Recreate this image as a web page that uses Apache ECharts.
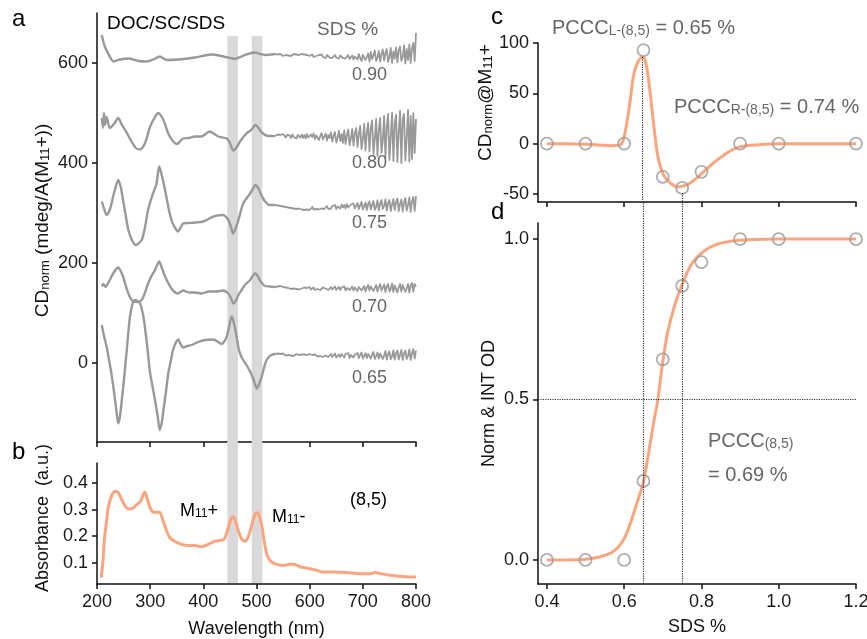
<!DOCTYPE html>
<html>
<head>
<meta charset="utf-8">
<script src="https://cdn.jsdelivr.net/npm/echarts@6/dist/echarts.min.js"></script>
<style>html,body{margin:0;padding:0;background:#fff}#chart{width:867px;height:639px}</style>
</head>
<body>
<div id="chart"></div>
<script>
// ---------------- DATA ----------------
// Panel a: CD spectra (wavelength nm, CD value incl. vertical offset)
const cd090Head = [[209,656],[214,635],[221,619],[231,603],[243,607],[259,609],[278,604],[293,603],[306,607],[318,613],[331,606],[353,607],[384,611],[416,617],[434,614],[450,610],[459,608],[470,612],[478,616],[497,621],[507,618],[516,616],[535,618]];
const cd080Head = [[209,490],[211,470],[213,500],[215,476],[218,492],[224,470],[232,478],[240,490],[246,478],[253,466],[265,443],[273,430],[281,427],[290,439],[300,473],[308,490],[315,500],[325,486],[334,459],[342,445],[350,438],[362,449],[373,450],[384,453],[396,453],[412,463],[428,453],[444,449],[450,440],[456,425],[463,432],[469,443],[481,459],[490,466],[498,476],[504,470],[510,461],[522,454],[535,454]];
const cd075Head = [[209,323],[213,310],[218,296],[224,306],[232,340],[240,366],[245,350],[249,326],[254,295],[259,266],[266,245],[273,236],[284,246],[290,270],[296,306],[304,335],[312,359],[317,393],[322,375],[328,346],[334,313],[340,286],[346,272],[352,263],[357,270],[362,279],[373,280],[384,281],[400,283],[419,293],[437,296],[447,286],[452,272],[456,259],[461,270],[466,286],[475,319],[488,339],[493,348],[498,356],[502,352],[506,343],[511,332],[516,323],[525,316],[535,316]];
const cd070Head = [[209,153],[212,158],[216,152],[220,158],[224,166],[232,182],[240,191],[245,183],[249,173],[254,155],[259,139],[264,128],[268,123],[276,122],[284,126],[290,140],[296,159],[303,175],[309,186],[317,203],[322,190],[328,173],[334,160],[340,149],[346,142],[352,139],[362,145],[373,141],[384,141],[397,139],[410,143],[424,143],[437,145],[447,139],[452,130],[456,119],[461,124],[466,136],[472,146],[478,156],[488,166],[497,179],[501,176],[506,166],[511,159],[516,154],[525,153],[535,152]];
const cd065Head = [[209,76],[213,55],[218,33],[222,10],[226,-14],[230,-42],[234,-74],[237,-100],[240,-121],[243,-108],[246,-81],[251,-30],[256,26],[259,62],[262,93],[266,115],[271,126],[276,124],[281,119],[286,100],[290,73],[295,28],[300,-21],[305,-50],[309,-74],[314,-105],[318,-134],[322,-118],[325,-94],[330,-55],[334,-21],[339,5],[343,26],[348,40],[353,47],[357,38],[362,31],[370,34],[378,36],[390,42],[403,46],[419,47],[428,42],[434,38],[440,44],[444,53],[449,75],[453,93],[456,86],[459,73],[463,50],[467,26],[471,14],[475,6],[481,-4],[488,-17],[494,-32],[498,-45],[501,-51],[505,-42],[510,-27],[514,-10],[519,6],[524,13],[528,16],[535,18]];
// noisy tails, read on a 2.5 nm grid
const tailWl = [540,542.5,545,547.5,550,552.5,555,557.5,560,562.5,565,567.5,570,572.5,575,577.5,580,582.5,585,587.5,590,592.5,595,597.5,600,602.5,605,607.5,610,612.5,615,617.5,620,622.5,625,627.5,630,632.5,635,637.5,640,642.5,645,647.5,650,652.5,655,657.5,660,662.5,665,667.5,670,672.5,675,677.5,680,682.5,685,687.5,690,692.5,695,697.5,700,702.5,705,707.5,710,712.5,715,717.5,720,722.5,725,727.5,730,732.5,735,737.5,740,742.5,745,747.5,750,752.5,755,757.5,760,762.5,765,767.5,770,772.5,775,777.5,780,782.5,785,787.5,790,792.5,795,797.5,800];
const cd090Tail = [617,615,618,616,614,617,616,618,615,617, 614,616,618,615,617,614,616,615,618,614, 617,613,616,618,614,615,617,612,616,614, 611,616,613,617,612,615,610,616,613,611, 615,610,614,616,611,613,609,615,612,610, 614,609,613,616,608,612,615,607,613,617, 607,618,610,604,616,620,606,612,619,603, 622,608,615,625,604,611,624,603,618,627, 605,620,628,602,612,630,600,623,609,631, 601,626,633,604,612,635,599,628,606,637, 600,630,640,604,660];
const cd080Tail = [457,453,456,452,458,454,451,456,453,455, 450,457,452,455,449,456,453,451,457,450, 456,449,458,451,447,457,452,459,448,455, 458,446,454,460,447,451,459,445,456,450, 461,443,455,462,441,450,464,444,458,440, 465,438,456,467,436,449,468,435,460,470, 432,458,474,428,447,478,425,462,480,423, 470,485,418,448,488,414,466,490,420,445, 494,410,472,498,406,452,500,404,480,496, 402,462,504,400,488,498,405,450,506,403, 494,408,500,420,488];
const cd075Tail = [315,312,314,311,313,310,312,309,311,308, 310,307,309,306,308,305,309,306,307,309, 306,310,307,311,306,309,312,307,310,308, 312,307,311,309,313,308,311,314,308,312, 309,314,310,316,308,313,315,309,317,311, 316,309,318,311,308,317,313,319,309,315, 320,308,316,322,307,313,321,306,318,323, 307,317,324,306,312,325,305,319,326,308, 314,327,305,320,326,304,317,328,306,322, 329,304,318,327,303,321,330,305,316,331, 302,324,332,304,334];
const cd070Tail = [153,151,154,150,152,149,151,153,150,152, 148,151,149,152,148,150,147,151,149,148, 151,147,150,148,152,147,149,151,146,150, 148,152,146,150,151,147,149,152,146,150, 152,147,150,153,146,149,152,146,151,148, 153,145,150,154,146,148,153,145,151,155, 144,152,155,145,149,154,143,151,156,145, 153,157,144,150,156,143,152,158,145,149, 157,142,153,158,143,148,159,142,155,157, 141,152,158,143,156,160,142,149,158,141, 155,160,143,158,152];
const cd065Tail = [19,17,18,16,19,17,15,18,16,17, 15,17,14,16,18,15,16,14,17,15, 17,13,16,15,18,14,16,13,17,15, 13,17,14,18,12,16,15,18,12,16, 18,12,16,19,11,15,17,12,18,14, 11,18,15,20,10,16,19,11,17,13, 20,10,16,21,9,14,20,10,18,21, 9,17,22,8,14,21,9,19,23,8, 15,24,7,18,23,8,13,25,7,20, 25,7,16,26,6,19,25,8,14,27, 6,20,28,9,25];
const sdsLabels = ['0.90','0.80','0.75','0.70','0.65'];
const cdTicks = [0,200,400,600];

// Panel b: absorbance
const absWl = [208,211,214,218,221,226,231,236,241,248,254,260,268,275,282,287,290,294,301,307,315,319,324,331,337,346,359,371,384,397,409,422,431,439,445,451,456,460,466,472,479,486,493,497,501,505,510,515,520,528,538,550,563,569,582,594,610,626,645,670,695,714,723,733,751,776,800];
const absVal = [0.044,0.10,0.19,0.256,0.306,0.344,0.365,0.369,0.36,0.331,0.31,0.302,0.306,0.319,0.331,0.356,0.365,0.344,0.302,0.29,0.29,0.288,0.26,0.219,0.194,0.181,0.169,0.165,0.165,0.16,0.169,0.181,0.184,0.188,0.219,0.26,0.273,0.26,0.219,0.19,0.181,0.206,0.256,0.281,0.288,0.278,0.238,0.175,0.128,0.103,0.094,0.09,0.094,0.094,0.085,0.08,0.073,0.065,0.065,0.063,0.059,0.059,0.063,0.059,0.053,0.048,0.046];
const absTicks = [0.1,0.2,0.3,0.4];
const bands = [[445,465],[491,511]];

// Panel c & d: SDS dependence
const sdsX = [0.4,0.5,0.6,0.65,0.7,0.75,0.8,0.9,1.0,1.2];
const cdM11 = [0,0,0,93,-33,-44,-28,0,0,0];
const cFitX = [0.40,0.45,0.50,0.54,0.565,0.59,0.598,0.607,0.616,0.624,0.633,0.642,0.648,0.655,0.663,0.672,0.681,0.689,0.702,0.719,0.738,0.754,0.771,0.797,0.832,0.871,0.901,0.95,1.0,1.1,1.2];
const cFitY = [0,0,-0.5,-1.5,-2,-1,4,21,44,67,79,85,86,82,64,34,4,-16,-31,-39,-43,-42,-39,-31,-19,-8,-3,-1,0,0,0];
const normOD = [0,0,0,0.246,0.625,0.854,0.928,1,1,1];
const dFitX = [0.40,0.45,0.50,0.538,0.572,0.598,0.616,0.633,0.649,0.663,0.676,0.687,0.698,0.711,0.724,0.738,0.754,0.776,0.806,0.841,0.88,0.92,1.0,1.1,1.2];
const dFitY = [0,0,0.002,0.01,0.026,0.062,0.114,0.177,0.239,0.332,0.426,0.498,0.602,0.70,0.765,0.82,0.87,0.925,0.962,0.984,0.994,0.998,1,1,1];
const sdsTicks = [0.4,0.6,0.8,1.0,1.2];
const cTicks = [-50,0,50,100];
const dTicks = [0,0.5,1.0];
const guideX = [0.648,0.751];     // PCCC_L / PCCC_R positions
const guideTopC = [86,-49];       // where the guides start in panel c
const halfLevel = 0.5;

// ---------------- CHART ----------------
const FONT = '"Liberation Sans", Arial, sans-serif';
const GREY = '#999999';
const ORANGE = '#fba57e';
const TXT = '#666666';

const pairs = (xs, ys) => xs.map((x, i) => [x, ys[i]]);

const axLine = {show: true, onZero: false, lineStyle: {color: '#111', width: 1.5}};
const axTick = (vals) => Object.assign({show: true, length: 5, inside: false, lineStyle: {color: '#111', width: 1.5}}, vals ? {customValues: vals} : {});
const axLabel = (extra) => Object.assign({color: '#1a1a1a', fontSize: 18, fontFamily: FONT, margin: 9}, extra || {});
const noSplit = {show: false};

const gridBase = {containLabel: false, outerBoundsMode: 'none'};
const grids = [
  Object.assign({left: 97, top: 13, width: 319, height: 429}, gridBase),
  Object.assign({left: 97, top: 463, width: 319, height: 121}, gridBase),
  Object.assign({left: 538, top: 43, width: 318, height: 159}, gridBase),
  Object.assign({left: 538, top: 223, width: 318, height: 361}, gridBase),
  Object.assign({left: 97, top: 36, width: 319, height: 547}, gridBase),
  Object.assign({left: 538, top: 202, width: 318, height: 382}, gridBase)
];

const nameRich = (big, small) => ({
  m: {fontSize: big, fontFamily: FONT, color: '#111'},
  s: {fontSize: small, fontFamily: FONT, color: '#111', verticalAlign: 'bottom'}
});

const xAxes = [
  {gridIndex: 0, type: 'value', min: 200, max: 800, interval: 100, axisLine: axLine, axisTick: axTick(), axisLabel: {show: false}, splitLine: noSplit},
  {gridIndex: 1, type: 'value', min: 200, max: 800, interval: 100, axisLine: axLine, axisTick: axTick(), axisLabel: axLabel(), splitLine: noSplit,
    name: 'Wavelength (nm)', nameLocation: 'middle', nameGap: 36, nameTextStyle: {fontSize: 18, fontFamily: FONT, color: '#111'}},
  {gridIndex: 2, type: 'value', min: 0.377, max: 1.2, axisLine: axLine, axisTick: axTick(sdsTicks), axisLabel: {show: false}, splitLine: noSplit},
  {gridIndex: 3, type: 'value', min: 0.377, max: 1.2, axisLine: axLine, axisTick: axTick(sdsTicks),
    axisLabel: axLabel({customValues: sdsTicks, formatter: v => v.toFixed(1)}), splitLine: noSplit,
    name: 'SDS %', nameLocation: 'middle', nameGap: 34, nameTextStyle: {fontSize: 18, fontFamily: FONT, color: '#111'}},
  {gridIndex: 4, type: 'value', min: 200, max: 800, show: false},
  {gridIndex: 5, type: 'value', min: 0.377, max: 1.2, show: false}
];

const yAxes = [
  {gridIndex: 0, type: 'value', min: -158, max: 700, axisLine: axLine, axisTick: axTick(cdTicks),
    axisLabel: axLabel({customValues: cdTicks}), splitLine: noSplit,
    name: '{m|CD}{s|norm}{m| (mdeg/A(M}{s|11}{m|+))}', nameLocation: 'middle', nameGap: 45, nameRotate: 90,
    nameTextStyle: {fontSize: 19, fontFamily: FONT, color: '#111', padding: [0, 0, 0, 14], rich: nameRich(19, 13)}},
  {gridIndex: 1, type: 'value', min: 0.02, max: 0.475, axisLine: axLine, axisTick: axTick(absTicks),
    axisLabel: axLabel({customValues: absTicks, formatter: v => v.toFixed(1)}), splitLine: noSplit,
    name: 'Absorbance  (a.u.)', nameLocation: 'middle', nameGap: 45, nameRotate: 90,
    nameTextStyle: {fontSize: 18, fontFamily: FONT, color: '#111', padding: [0, 0, 0, 11]}},
  {gridIndex: 2, type: 'value', min: -58, max: 100, axisLine: axLine, axisTick: axTick(cTicks),
    axisLabel: axLabel({customValues: cTicks}), splitLine: noSplit,
    name: '{m|CD}{s|norm}{m|@M}{s|11}{m|+}', nameLocation: 'middle', nameGap: 40, nameRotate: 90,
    nameTextStyle: {fontSize: 19, fontFamily: FONT, color: '#111', padding: [0, 0, 0, 40], rich: nameRich(19, 13)}},
  {gridIndex: 3, type: 'value', min: -0.075, max: 1.05, axisLine: axLine, axisTick: axTick(dTicks),
    axisLabel: axLabel({customValues: dTicks, formatter: v => v.toFixed(1)}), splitLine: noSplit,
    name: 'Norm & INT OD', nameLocation: 'middle', nameGap: 40, nameRotate: 90,
    nameTextStyle: {fontSize: 18, fontFamily: FONT, color: '#111'}},
  {gridIndex: 4, type: 'value', min: 0, max: 1, show: false},
  {gridIndex: 5, type: 'value', min: 0, max: 1, show: false}
];

// each spectrum: smooth body + raw (unsmoothed) noisy tail joined at the last body point
const spectra = [[cd090Head, cd090Tail], [cd080Head, cd080Tail], [cd075Head, cd075Tail], [cd070Head, cd070Tail], [cd065Head, cd065Tail]];
const cdSeries = [];
spectra.forEach((p, i) => {
  const nm = 'SDS ' + sdsLabels[i] + ' %';
  cdSeries.push({
    name: nm, type: 'line', xAxisIndex: 0, yAxisIndex: 0, data: p[0], showSymbol: false, smooth: 0.25, silent: true,
    lineStyle: {color: GREY, width: 2.4}, z: 3
  });
  cdSeries.push({
    name: nm, type: 'line', xAxisIndex: 0, yAxisIndex: 0, data: [p[0][p[0].length - 1]].concat(pairs(tailWl, p[1])),
    showSymbol: false, smooth: false, silent: true, lineStyle: {color: GREY, width: 1.8, join: 'round'}, z: 3
  });
});

const dotted = {type: 'dotted', color: '#333', width: 1.2};

const series = [
  {type: 'line', xAxisIndex: 4, yAxisIndex: 4, data: [[bands[0][0], 0]], showSymbol: false, lineStyle: {opacity: 0}, silent: true, z: -1,
    markArea: {silent: true, itemStyle: {color: '#d9d9dc'}, data: bands.map(b => [{xAxis: b[0]}, {xAxis: b[1]}])}},
  ...cdSeries,
  {name: 'Absorbance', type: 'line', xAxisIndex: 1, yAxisIndex: 1, data: pairs(absWl, absVal), showSymbol: false, smooth: 0.3,
    lineStyle: {color: ORANGE, width: 3}, silent: true, z: 3},
  {type: 'line', xAxisIndex: 5, yAxisIndex: 5, data: [[guideX[0], 0]], showSymbol: false, lineStyle: {opacity: 0}, silent: true, z: 1,
    markLine: {silent: true, symbol: 'none', label: {show: false}, lineStyle: dotted, data: guideX.map(x => ({xAxis: x}))}},
  {name: 'CD fit', type: 'line', xAxisIndex: 2, yAxisIndex: 2, data: pairs(cFitX, cFitY), showSymbol: false, smooth: 0.35,
    lineStyle: {color: ORANGE, width: 3}, silent: true, z: 3,
    markLine: {silent: true, symbol: 'none', label: {show: false}, lineStyle: dotted,
      data: guideX.map((x, i) => [{coord: [x, guideTopC[i]]}, {coord: [x, -58]}])}},
  {name: 'CD@M11+', type: 'scatter', xAxisIndex: 2, yAxisIndex: 2, data: pairs(sdsX, cdM11), symbol: 'circle', symbolSize: 12,
    itemStyle: {color: 'rgba(255,255,255,0)', borderColor: GREY, borderWidth: 1.8}, silent: true, z: 4},
  {name: 'OD fit', type: 'line', xAxisIndex: 3, yAxisIndex: 3, data: pairs(dFitX, dFitY), showSymbol: false, smooth: 0.35,
    lineStyle: {color: ORANGE, width: 3}, silent: true, z: 3,
    markLine: {silent: true, symbol: 'none', label: {show: false}, lineStyle: dotted, data: [{yAxis: halfLevel}]}},
  {name: 'Norm OD', type: 'scatter', xAxisIndex: 3, yAxisIndex: 3, data: pairs(sdsX, normOD), symbol: 'circle', symbolSize: 12,
    itemStyle: {color: 'rgba(255,255,255,0)', borderColor: GREY, borderWidth: 1.8}, silent: true, z: 4}
];

const txt = (x, y, text, size, color, rich) => ({
  type: 'text', x: x, y: y, silent: true, z: 10,
  style: Object.assign({text: text, fill: color, font: size + 'px ' + FONT, textAlign: 'left', textVerticalAlign: 'middle'}, rich ? {rich: rich} : {})
});
const annRich = (big, small, color) => ({
  m: {fontSize: big, fontFamily: FONT, fill: color, color: color},
  s: {fontSize: small, fontFamily: FONT, fill: color, color: color, verticalAlign: 'bottom'}
});

const graphics = [
  txt(12, 19, 'a', 24, '#000'),
  txt(12, 452, 'b', 24, '#000'),
  txt(491, 17, 'c', 24, '#000'),
  txt(491, 212, 'd', 24, '#000'),
  txt(107, 24, 'DOC/SC/SDS', 19, '#000'),
  txt(317, 30, 'SDS %', 19, TXT),
  txt(352, 75, sdsLabels[0], 18, TXT),
  txt(352, 163, sdsLabels[1], 18, TXT),
  txt(352, 223, sdsLabels[2], 18, TXT),
  txt(352, 307, sdsLabels[3], 18, TXT),
  txt(352, 378, sdsLabels[4], 18, TXT),
  txt(180, 511, '{m|M}{s|11}{m|+}', 18, '#000', annRich(18, 12, '#000')),
  txt(272, 517, '{m|M}{s|11}{m|-}', 18, '#000', annRich(18, 12, '#000')),
  txt(350, 500, '(8,5)', 18, '#000'),
  txt(552, 28, '{m|PCCC}{s|L-(8,5)}{m| = 0.65 %}', 20, TXT, annRich(20, 14, TXT)),
  txt(674, 107, '{m|PCCC}{s|R-(8,5)}{m| = 0.74 %}', 20, TXT, annRich(20, 14, TXT)),
  txt(708, 441, '{m|PCCC}{s|(8,5)}', 20, TXT, annRich(20, 14, TXT)),
  txt(708, 475, '= 0.69 %', 20, TXT)
];

const chart = echarts.init(document.getElementById('chart'), null, {renderer: 'canvas'});
chart.setOption({
  animation: false,
  backgroundColor: '#ffffff',
  textStyle: {fontFamily: FONT},
  grid: grids,
  xAxis: xAxes,
  yAxis: yAxes,
  series: series,
  graphic: graphics
});
</script>
</body>
</html>
